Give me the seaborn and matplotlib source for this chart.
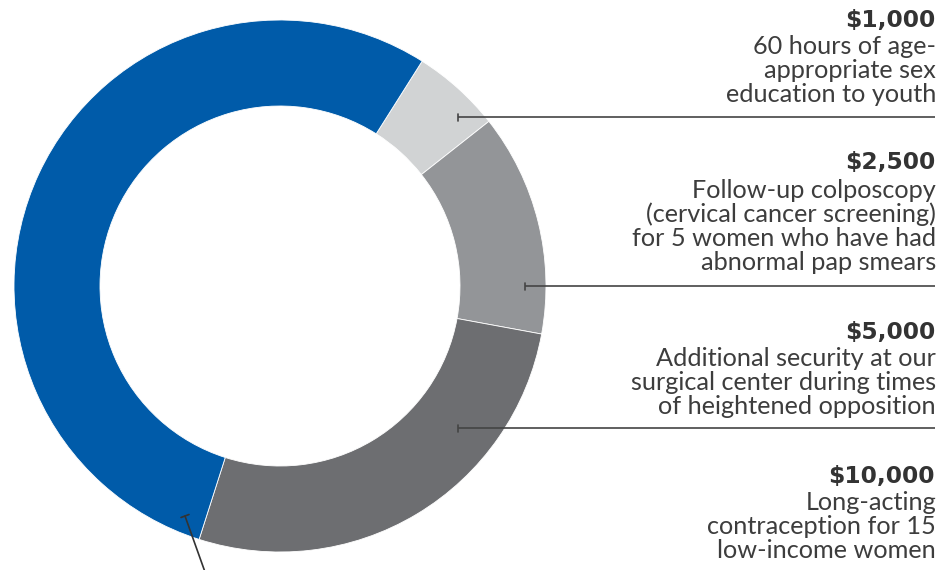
import matplotlib
matplotlib.use('Agg')
import matplotlib.pyplot as plt
import seaborn as sns

sns.set_style('white')
plt.rcParams['font.family'] = ['Lato', 'DejaVu Sans']

# Data
amounts = [1000, 2500, 5000, 10000]
headings = ['$1,000', '$2,500', '$5,000', '$10,000']
descriptions = [
    ['60 hours of age-', 'appropriate sex', 'education to youth'],
    ['Follow-up colposcopy', '(cervical cancer screening)', 'for 5 women who have had', 'abnormal pap smears'],
    ['Additional security at our', 'surgical center during times', 'of heightened opposition'],
    ['Long-acting', 'contraception for 15', 'low-income women'],
]
colors = sns.color_palette(['#d1d3d4', '#939598', '#6d6e71', '#005ba9'])

fig = plt.figure(figsize=(9.42, 5.70), dpi=100)
ax = fig.add_axes([0, 0, 1, 1])

# pixel-like coordinates, y pointing down
cx, cy, r_out, r_in = 280, 286, 266, 180
ax.pie(amounts, colors=colors, center=(cx, cy), radius=r_out,
       startangle=-57.7, counterclock=True,
       wedgeprops=dict(width=r_out - r_in, edgecolor='white', linewidth=0.6))
ax.set_xlim(0, 942)
ax.set_ylim(570, 0)
ax.set_aspect('auto')
ax.axis('off')

text_x = 935
head_y = [20, 163, 332, 476]
line_color = '#444444'
text_color = '#3d3d3d'
for heading, desc, hy in zip(headings, descriptions, head_y):
    ax.text(text_x, hy, heading, ha='right', va='center', fontsize=16.8,
            fontweight='bold', color='#333333', family='DejaVu Sans')
    for i, line in enumerate(desc):
        ax.text(text_x + 1, hy + 27 + i * 24, line, ha='right', va='center',
                fontsize=18.2, color=text_color)

# leader lines
leaders = [(458, 117), (525, 286), (458, 428)]
for x0, y0 in leaders:
    ax.plot([x0, 935], [y0, y0], color=line_color, lw=1.2, solid_capstyle='butt')
    ax.plot([x0, x0], [y0 - 3.5, y0 + 3.5], color=line_color, lw=1.2)

# blue segment leader
ax.plot([185, 205], [516, 572], color='#333333', lw=1.2, clip_on=False)
ax.plot([181, 189], [517.5, 514.5], color='#333333', lw=1.2)

fig.savefig('out.png', dpi=100)
